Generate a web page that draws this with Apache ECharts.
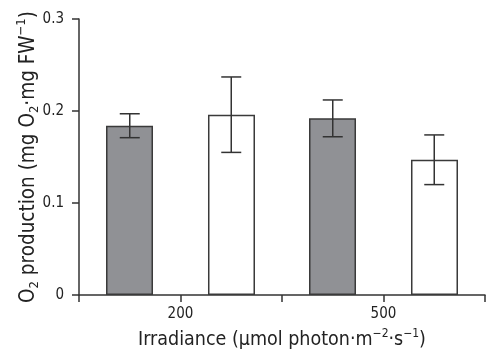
<!DOCTYPE html>
<html>
<head>
<meta charset="utf-8">
<script src="https://cdn.jsdelivr.net/npm/echarts@6/dist/echarts.min.js"></script>
<style>
  html, body { margin: 0; padding: 0; background: #fff; }
  #main { width: 500px; height: 361px; }
</style>
</head>
<body>
<div id="main"></div>
<script>
// irradiance levels (µmol photon m-2 s-1)
var irradiance = ['200', '500'];
// grey bars
var greyMeans = [0.184, 0.192];
var greyErr = [0.013, 0.020];
// white bars
var whiteMeans = [0.196, 0.147];
var whiteErr = [0.041, 0.027];
var yTicks = [0, 0.1, 0.2, 0.3];

var FONT = '"Liberation Sans Narrow", "DejaVu Sans Condensed", sans-serif';
var INK = '#333';

// error bar drawn with an offset inside the category band (-1 left bar, +1 right bar)
function errorBars(means, errs, side) {
    return {
        type: 'custom',
        xAxisIndex: 0,
        yAxisIndex: 0,
        z: 5,
        data: means.map(function (m, i) { return [i, m - errs[i], m + errs[i]]; }),
        renderItem: function (params, api) {
            var band = api.size([1, 0])[0];
            var lo = api.coord([api.value(0), api.value(1)]);
            var hi = api.coord([api.value(0), api.value(2)]);
            var x = lo[0] + side * band * 0.25;
            var cap = 10;
            var style = { stroke: INK, lineWidth: 1.5, fill: null };
            return {
                type: 'group',
                children: [
                    { type: 'line', shape: { x1: x, y1: lo[1], x2: x, y2: hi[1] }, style: style },
                    { type: 'line', shape: { x1: x - cap, y1: lo[1], x2: x + cap, y2: lo[1] }, style: style },
                    { type: 'line', shape: { x1: x - cap, y1: hi[1], x2: x + cap, y2: hi[1] }, style: style }
                ]
            };
        }
    };
}

function richText(size) {
    var small = Math.round(size * 0.62);
    return {
        t: { fontSize: size, fontFamily: FONT, color: '#222', lineHeight: size + 5 },
        sub: { fontSize: small, fontFamily: FONT, color: '#222', lineHeight: small, verticalAlign: 'bottom' },
        sup: { fontSize: small, fontFamily: FONT, color: '#222', lineHeight: small, verticalAlign: 'top' }
    };
}

var myChart = echarts.init(document.getElementById('main'));
myChart.setOption({
    animation: false,
    backgroundColor: '#fff',
    grid: { left: 79, right: 15, top: 19, bottom: 66, outerBoundsMode: 'none', containLabel: false },
    xAxis: [{
        type: 'category',
        data: irradiance,
        boundaryGap: true,
        axisLine: { lineStyle: { color: INK, width: 1.5 } },
        axisTick: { show: false },
        axisLabel: { color: '#222', fontSize: 15, fontFamily: FONT, margin: 12 },
        name: '{t|Irradiance (µmol photon·m}{sup|−2}{t|·s}{sup|−1}{t|)}',
        nameLocation: 'middle',
        nameGap: 33,
        nameMoveOverlap: false,
        nameTextStyle: { rich: richText(19.5) }
    }, {
        // tick marks at band edges and centres
        type: 'value',
        min: 0,
        max: 4,
        interval: 1,
        position: 'bottom',
        axisLine: { show: false },
        axisTick: { show: true, length: 7, lineStyle: { color: INK, width: 1.5 } },
        axisLabel: { show: false },
        splitLine: { show: false }
    }],
    yAxis: {
        type: 'value',
        min: yTicks[0],
        max: yTicks[yTicks.length - 1],
        interval: 0.1,
        axisLine: { show: true, lineStyle: { color: INK, width: 1.5 } },
        axisTick: { show: true, length: 7, lineStyle: { color: INK, width: 1.5 } },
        axisLabel: {
            color: '#222', fontSize: 15, fontFamily: FONT, margin: 15,
            formatter: function (v) { return v === 0 ? '0' : v.toFixed(1); }
        },
        splitLine: { show: false },
        name: '{t|O}{sub|2}{t| production (mg O}{sub|2}{t|·mg FW}{sup|−1}{t|)}',
        nameLocation: 'middle',
        nameGap: 38,
        nameMoveOverlap: false,
        nameTextStyle: { rich: richText(20.5) }
    },
    series: [{
        type: 'bar',
        data: greyMeans,
        barWidth: 47,
        barGap: '117%',
        itemStyle: { color: '#909195', borderColor: '#3a3a3a', borderWidth: 1.5 }
    }, {
        type: 'bar',
        data: whiteMeans,
        barWidth: 47,
        barGap: '117%',
        itemStyle: { color: '#fff', borderColor: '#3a3a3a', borderWidth: 1.5 }
    },
    errorBars(greyMeans, greyErr, -1),
    errorBars(whiteMeans, whiteErr, 1)
    ]
});
</script>
</body>
</html>
